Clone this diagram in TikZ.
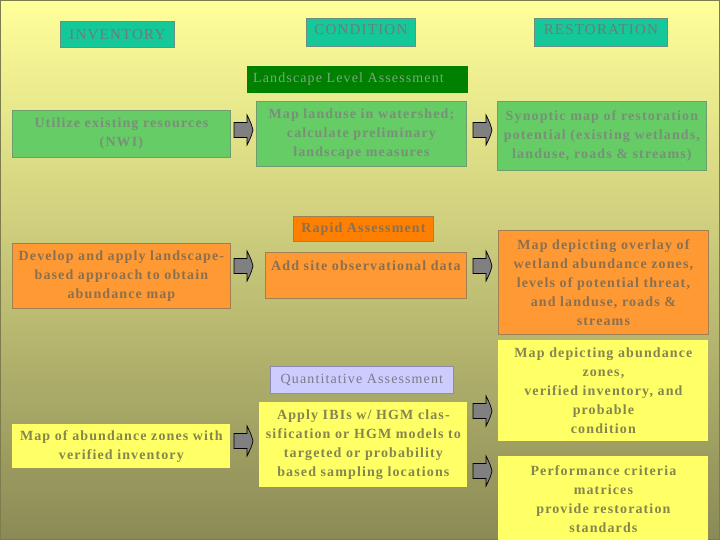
\documentclass[tikz,border=0pt]{standalone}
\usepackage{fontspec}
\setmainfont{Liberation Serif}
\newfontfamily\spaced[LetterSpace=8]{Liberation Serif}
\definecolor{bgtop}{HTML}{FFFF9A}
\definecolor{bgmid}{HTML}{DADA80}
\definecolor{bgbot}{HTML}{8A8A56}
\definecolor{teal}{HTML}{14C89A}
\definecolor{tealtxt}{HTML}{6A7E78}
\definecolor{tealdraw}{HTML}{6E8E7E}
\definecolor{dkgreen}{HTML}{008000}
\definecolor{dkgreentxt}{HTML}{7BA87B}
\definecolor{grn}{HTML}{66CC66}
\definecolor{grntxt}{HTML}{789078}
\definecolor{grndraw}{HTML}{6E9E6E}
\definecolor{org}{HTML}{FF9933}
\definecolor{orgdark}{HTML}{FF8000}
\definecolor{orgtxt}{HTML}{8A7050}
\definecolor{orgdraw}{HTML}{A08050}
\definecolor{lav}{HTML}{CCCCFF}
\definecolor{lavtxt}{HTML}{7A7A88}
\definecolor{lavdraw}{HTML}{8C8CB0}
\definecolor{yel}{HTML}{FFFF66}
\definecolor{yeltxt}{HTML}{85854F}
\definecolor{arrowgray}{HTML}{808080}
\begin{document}
\begin{tikzpicture}[x=1pt,y=-1pt,
  box/.style={anchor=north west, inner sep=2pt, align=center, line width=0.8pt,
    font=\spaced\bfseries\fontsize{14}{19}\selectfont},
  hdr/.style={anchor=north west, inner sep=0pt, align=center, line width=0.8pt,
    fill=teal, draw=tealdraw, text=tealtxt, font=\spaced\fontsize{15}{18}\selectfont},
  grnbox/.style={box, fill=grn, draw=grndraw, text=grntxt},
  orgbox/.style={box, fill=org, draw=orgdraw, text=orgtxt},
  yelbox/.style={box, fill=yel, text=yeltxt},
  blockarrow/.pic={
    \draw[fill=arrowgray, draw=black, line width=0.7pt]
      (0,-7.5) -- (13,-7.5) -- (13,-15) .. controls (17,-7) .. (19,0)
      .. controls (17,7) .. (13,15) -- (13,7.5) -- (0,7.5) -- cycle;
  }]
% background
\shade[top color=bgtop, middle color=bgmid, bottom color=bgbot] (0,0) rectangle (720,540);
\useasboundingbox (0,0) rectangle (720,540);
\draw[color=bgbot!90!black, line width=1pt] (0.5,0.5) rectangle (719.5,539.5);

% headers
\node[hdr, minimum width=114pt, minimum height=26pt] (inv) at (60,21) {INVENTORY};
\node[hdr, minimum width=109pt, minimum height=28pt] (cond) at (306,18) {};
\node[tealtxt, font=\spaced\fontsize{15}{18}\selectfont, inner sep=0pt] (condt) at ([yshift=3pt]cond.center) {CONDITION};
\node[hdr, minimum width=133pt, minimum height=28pt] (rest) at (534,18) {};
\node[tealtxt, font=\spaced\fontsize{15}{18}\selectfont, inner sep=0pt] (restt) at ([yshift=3pt]rest.center) {RESTORATION};

\node[anchor=north west, fill=dkgreen, minimum width=221pt, minimum height=27pt, inner sep=0pt] (land) at (247,66) {};
\node[anchor=west, text=dkgreentxt, inner sep=0pt, font=\spaced\fontsize{14}{18}\selectfont] (landt) at ([xshift=6pt,yshift=1pt]land.west) {Landscape Level Assessment};

% row 1
\node[grnbox, minimum width=218pt, minimum height=47pt] (util) at (12,110)
  {Utilize existing resources\\(NWI)};
\node[grnbox, minimum width=210pt, minimum height=65pt] (landuse) at (256,101)
  {Map landuse in watershed;\\calculate preliminary\\landscape measures};
\node[grnbox, minimum width=209pt, minimum height=69pt] (synop) at (497,101)
  {Synoptic map of restoration\\potential (existing wetlands,\\landuse, roads \& streams)};

% rapid assessment
\node[box, fill=orgdark, draw=orgdraw, text=orgtxt, minimum width=140pt, minimum height=25pt] (rapid) at (293,216)
  {Rapid Assessment};

% row 2
\node[orgbox, minimum width=218pt, minimum height=65pt] (develop) at (12,243)
  {Develop and apply landscape-\\based approach to obtain\\abundance map};
\node[orgbox, minimum width=201pt, minimum height=46pt] (addsite) at (265,252) {};
\node[text=orgtxt, font=\spaced\bfseries\fontsize{14}{19}\selectfont, inner sep=0pt] (addsitet)
  at ([yshift=-14pt]addsite.north) {Add site observational data};
\node[orgbox, minimum width=210pt, minimum height=104pt] (overlay) at (498,230)
  {Map depicting overlay of\\wetland abundance zones,\\levels of potential threat,\\and landuse, roads \&\\streams};

% quantitative
\node[box, fill=lav, draw=lavdraw, text=lavtxt, font=\spaced\fontsize{14}{19}\selectfont,
  minimum width=183pt, minimum height=27pt] (quant) at (270,366)
  {Quantitative Assessment};

% row 3
\node[yelbox, minimum width=210pt, minimum height=101pt] (abund) at (498,340)
  {Map depicting abundance\\zones,\\verified inventory, and\\probable\\condition};
\node[yelbox, minimum width=208pt, minimum height=85pt] (apply) at (259,402)
  {Apply IBIs w/ HGM clas-\\sification or HGM models to\\targeted or probability\\based sampling locations};
\node[yelbox, minimum width=218pt, minimum height=44pt] (mapab) at (12,424)
  {Map of abundance zones with\\verified inventory};
\node[yelbox, minimum width=210pt, minimum height=85pt] (perf) at (498,456)
  {Performance criteria\\matrices\\provide restoration\\standards};

% block arrows
\pic at (234,130) {blockarrow};
\pic at (473,130) {blockarrow};
\pic at (234,266) {blockarrow};
\pic at (473,266) {blockarrow};
\pic at (234,441) {blockarrow};
\pic at (473,411) {blockarrow};
\pic at (473,471) {blockarrow};
\end{tikzpicture}
\end{document}
